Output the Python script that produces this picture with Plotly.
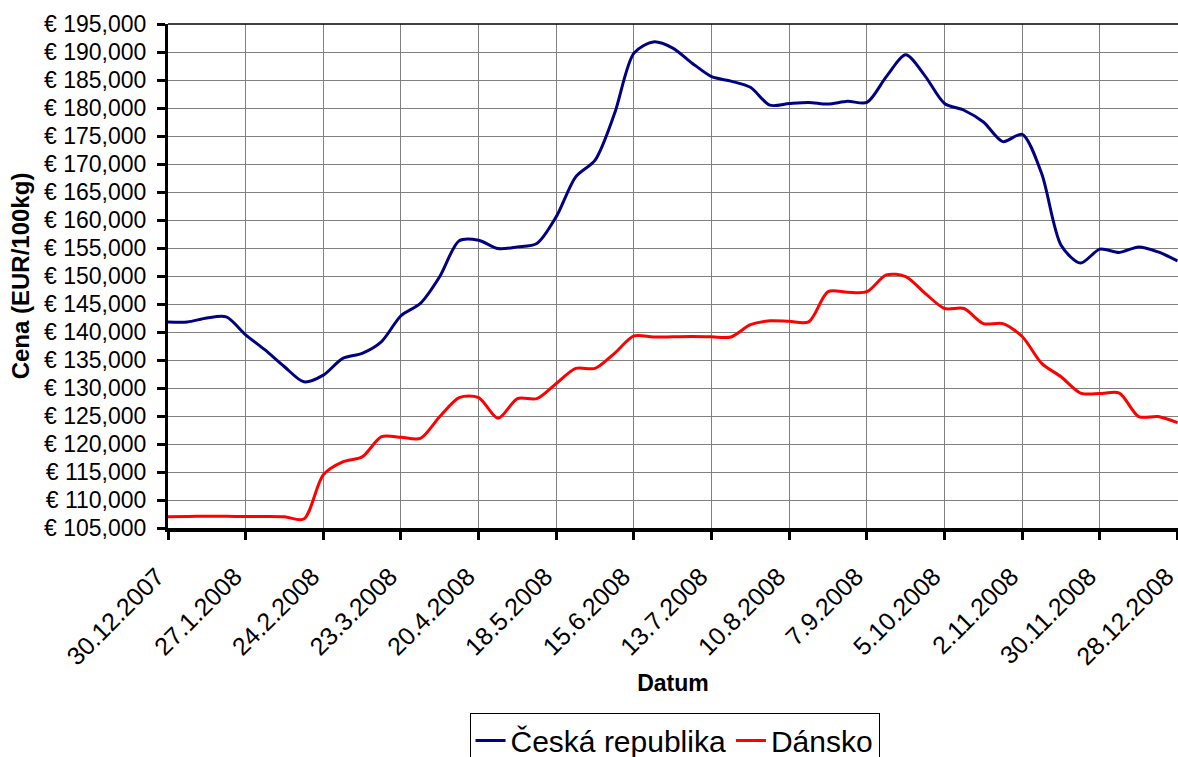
"""Cena - Česká republika vs Dánsko, 2008 (weekly)"""
import pandas as pd
import plotly.graph_objects as go

# weekly observations, 30.12.2007 .. 28.12.2008
dates = pd.date_range("2007-12-30", periods=53, freq="7D")

cz_prices = [
    141800, 141800, 142500, 142700, 139500, 136800, 133800, 131100, 132300,
    135300, 136200, 138300, 142900, 145100, 149900, 156300, 156400, 154900,
    155200, 155800, 160600, 167700, 170700, 179000, 189800, 191800, 190700,
    188000, 185600, 184800, 183700, 180500, 180800, 181000, 180700, 181200,
    181000, 185600, 189500, 185700, 180800, 179600, 177500, 174000, 175300,
    168300, 155500, 152300, 154800, 154200, 155200, 154300, 152700,
]
dk_prices = [
    107000, 107050, 107100, 107100, 107050, 107050, 107000, 106600, 114500,
    116800, 117700, 121300, 121200, 121000, 124900, 128300, 128300, 124600,
    128100, 128100, 130800, 133500, 133500, 136200, 139300, 139100, 139150,
    139200, 139150, 139100, 141300, 142000, 141900, 141800, 147200, 147100,
    147200, 150200, 149900, 146900, 144200, 144200, 141500, 141500, 139200,
    134400, 132000, 129100, 129000, 129100, 124900, 124900, 123800,
]

series_names = ["Česká republika", "Dánsko"]
series_colors = ["#000080", "#FF0000"]

FONT = "Liberation Sans, Arial, sans-serif"

fig = go.Figure()
for name, values, color in zip(series_names, [cz_prices, dk_prices], series_colors):
    fig.add_trace(
        go.Scatter(
            x=dates,
            y=values,
            name=name,
            mode="lines",
            line={"color": color, "width": 3, "shape": "spline", "smoothing": 0.8},
        )
    )

fig.update_layout(
    width=1178,
    height=757,
    margin={"l": 168, "r": 0, "t": 24, "b": 229, "autoexpand": False},
    paper_bgcolor="white",
    plot_bgcolor="white",
    font={"family": FONT, "color": "black", "size": 23},
    legend={
        "orientation": "h",
        "x": 0.5015,
        "xanchor": "center",
        "y": -0.368,
        "yanchor": "top",
        "bordercolor": "black",
        "borderwidth": 1,
        "font": {"size": 30},
        "itemwidth": 30,
        "tracegroupgap": 0,
    },
    shapes=[
        {
            "type": "line", "xref": "paper", "yref": "paper",
            "x0": 0, "x1": 1, "y0": 1, "y1": 1,
            "line": {"color": "black", "width": 1.5},
        }
    ],
)

fig.update_xaxes(
    range=["2007-12-30", "2008-12-28 04:00"],
    tick0="2007-12-30",
    dtick=28 * 86400000,
    tickformat="%-d.%-m.%Y",
    tickangle=-45,
    tickfont={"size": 25},
    ticks="outside",
    ticklen=8,
    tickwidth=3,
    tickcolor="black",
    ticklabelstandoff=12,
    ticklabelshift=-11,
    ticklabeloverflow="allow",
    showline=True,
    linecolor="black",
    linewidth=4,
    showgrid=True,
    gridcolor="#808080",
    gridwidth=1.3,
    automargin=False,
    title={"text": "<b>Datum</b>", "font": {"size": 23}, "standoff": 7},
)
fig.update_yaxes(
    range=[105000, 195000],
    dtick=5000,
    tickprefix="€ ",
    tickformat=",d",
    ticks="outside",
    ticklen=8,
    tickwidth=3,
    tickcolor="black",
    ticklabelstandoff=6,
    showline=True,
    linecolor="black",
    linewidth=3,
    showgrid=True,
    gridcolor="#808080",
    gridwidth=1.3,
    zeroline=False,
    automargin=False,
    title={"text": "<b>Cena (EUR/100kg)</b>", "font": {"size": 24}, "standoff": 8},
)

fig.write_html(
    "out.html",
    config={"displayModeBar": False},
    post_script="document.body.style.margin = '0px';",
)
